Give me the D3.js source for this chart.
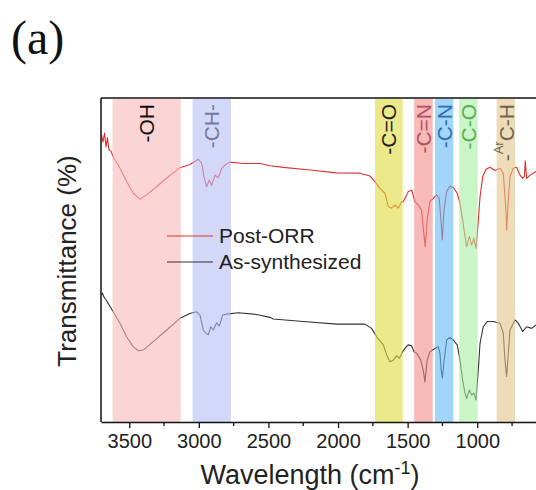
<!DOCTYPE html>
<html>
<head>
<meta charset="utf-8">
<script src="https://cdnjs.cloudflare.com/ajax/libs/d3/7.8.5/d3.min.js"></script>
<style>
	body { margin: 0; background: #fff; }
	svg { display: block; font-family: "Liberation Sans", Arial, sans-serif; }
</style>
</head>
<body>
<div id="chart"></div>
<script>

// [wavenumber, transmittance]
var postOrr = [
	[3700, 88.6], [3689, 86.4], [3678, 89.2], [3667, 84.9], [3657, 87.7], [3646, 84.0], [3631, 83.6],
	[3615, 81.8], [3567, 78.4], [3519, 74.2], [3471, 70.6], [3423, 68.8], [3375, 70.1], [3303, 72.6],
	[3231, 75.3], [3136, 78.5], [3064, 79.5], [3004, 81.1], [2980, 79.9], [2963, 75.7], [2944, 72.6],
	[2925, 74.7], [2908, 73.1], [2884, 76.2], [2861, 75.4], [2836, 78.3], [2812, 79.3], [2777, 80.2],
	[2681, 79.8], [2561, 79.8], [2489, 79.1], [2394, 78.6], [2202, 77.8], [2010, 76.9], [1843, 76.8],
	[1771, 75.9], [1735, 74.2], [1699, 72.1], [1663, 70.6], [1639, 66.5], [1615, 66.0], [1591, 67.0],
	[1568, 66.0], [1543, 68.0], [1532, 68.0], [1507, 70.1], [1496, 71.1], [1471, 71.6], [1448, 68.0],
	[1424, 67.0], [1400, 65.4], [1384, 58.2], [1374, 54.1], [1360, 62.3], [1340, 68.0], [1316, 69.0],
	[1292, 70.1], [1273, 69.0], [1259, 61.3], [1251, 56.2], [1239, 65.4], [1220, 71.1], [1196, 72.8],
	[1172, 72.4], [1144, 70.6], [1124, 67.5], [1105, 62.3], [1088, 57.2], [1076, 54.1], [1057, 57.2],
	[1040, 54.6], [1024, 56.7], [1009, 53.6], [993, 61.8], [980, 69.5], [961, 75.7], [937, 78.0],
	[909, 78.6], [873, 77.6], [837, 78.3], [813, 76.8], [794, 65.4], [789, 59.3], [777, 68.5],
	[765, 75.7], [741, 78.3], [717, 78.6], [693, 76.2], [674, 75.2], [661, 75.9], [655, 80.6],
	[645, 75.2], [621, 76.2], [578, 77.3]
];

var asSynthesized = [
	[3700, 39.2], [3693, 39.8], [3682, 38.6], [3675, 38.2], [3651, 36.6], [3615, 34.0], [3567, 30.5],
	[3519, 26.3], [3471, 23.2], [3435, 22.0], [3399, 22.2], [3328, 24.8], [3231, 28.4], [3136, 32.0],
	[3064, 33.5], [3016, 34.0], [2992, 33.0], [2968, 28.4], [2949, 27.4], [2932, 26.9], [2915, 29.4],
	[2897, 28.4], [2872, 30.6], [2853, 29.6], [2829, 33.0], [2800, 33.3], [2717, 33.7], [2585, 33.2],
	[2489, 32.3], [2466, 31.8], [2250, 31.0], [2010, 30.2], [1807, 30.2], [1759, 28.9], [1723, 26.3],
	[1675, 23.8], [1651, 20.7], [1627, 18.6], [1603, 19.1], [1579, 20.4], [1560, 19.7], [1536, 21.7],
	[1512, 23.1], [1496, 23.8], [1471, 23.5], [1455, 21.7], [1435, 21.2], [1406, 19.1], [1388, 16.0],
	[1376, 12.4], [1360, 19.1], [1340, 21.7], [1304, 22.7], [1280, 23.2], [1268, 21.2], [1259, 16.0],
	[1251, 13.5], [1239, 18.6], [1220, 25.3], [1196, 26.1], [1172, 25.3], [1144, 23.8], [1124, 19.1],
	[1105, 13.0], [1088, 8.9], [1076, 7.3], [1057, 9.9], [1040, 8.3], [1024, 8.9], [1009, 6.8],
	[993, 16.0], [980, 24.3], [957, 29.4], [928, 31.0], [885, 31.0], [837, 30.5], [813, 27.4],
	[801, 19.1], [789, 14.0], [777, 21.2], [765, 28.4], [729, 31.5], [705, 30.5], [674, 27.9],
	[645, 29.4], [609, 28.9], [578, 30.0]
];

var bandNames = ["-OH", "-CH-", "-C=O", "-C=N", "-C-N", "-C-O", "-C-H"];
var bandFrom = [3620, 3045, 1735, 1453, 1304, 1130, 861];
var bandTo = [3130, 2770, 1536, 1320, 1172, 997, 729];

var xTicks = [3500, 3000, 2500, 2000, 1500, 1000];
var xMinorTicks = [3250, 2750, 2250, 1750, 1250, 750];
var seriesNames = ["Post-ORR", "As-synthesized"];

var bandFill = ["#f8b9b9", "#b6bcf3", "#dfda3c", "#f38a8a", "#66b9f3", "#a5eea5", "#e3c589"];
var bandText = ["#111", "#737a9c", "#222", "#b4505e", "#2e6fb3", "#55b055", "#6e6454"];
var lineColor = ["#e0302c", "#333"];

var totalWidth = 536, totalHeight = 490;
var margin = { top: 98, left: 101, bottom: 68, right: 0 };
var width = totalWidth - margin.left - margin.right;
var height = totalHeight - margin.top - margin.bottom;

var xScale = d3.scaleLinear().domain([3703, 578]).range([0, width]);
var yScale = d3.scaleLinear().domain([0, 100]).range([height, 0]);

var svg = d3.select("#chart").append("svg")
	.attr("width", totalWidth)
	.attr("height", totalHeight);

svg.append("text")
	.attr("x", 11)
	.attr("y", 54)
	.style("font-family", "'Liberation Serif', 'Times New Roman', serif")
	.style("font-size", "48px")
	.attr("fill", "#111")
	.text("(a)");

var mainGroup = svg.append("g")
	.attr("transform", "translate(" + margin.left + "," + margin.top + ")");

var line = d3.line()
	.x(function (d) { return xScale(d[0]); })
	.y(function (d) { return yScale(d[1]); });

[postOrr, asSynthesized].forEach(function (s, i) {
	mainGroup.append("path")
		.datum(s)
		.attr("d", line)
		.attr("fill", "none")
		.attr("stroke", lineColor[i])
		.attr("stroke-width", 1.1)
		.attr("stroke-linejoin", "round");
});

// shaded bands sit on top of the spectra, see-through
mainGroup.selectAll(".band")
	.data(bandNames)
	.enter()
	.append("rect")
	.attr("class", "band")
	.attr("x", function (d, i) { return xScale(bandFrom[i]); })
	.attr("width", function (d, i) { return xScale(bandTo[i]) - xScale(bandFrom[i]); })
	.attr("y", 1)
	.attr("height", height - 1)
	.attr("fill", function (d, i) { return bandFill[i]; })
	.attr("fill-opacity", 0.6);

var bandLabels = mainGroup.selectAll(".band-label")
	.data(bandNames)
	.enter()
	.append("text")
	.attr("class", "band-label")
	.attr("transform", function (d, i) {
		var cx = (xScale(bandFrom[i]) + xScale(bandTo[i])) / 2;
		return "translate(" + cx + ",6) rotate(-90)";
	})
	.attr("text-anchor", "end")
	.attr("dominant-baseline", "central")
	.style("font-size", "21px")
	.attr("fill", function (d, i) { return bandText[i]; });

bandLabels.each(function (d, i) {
	var t = d3.select(this);
	if (i === 6) {
		t.append("tspan").text("-");
		t.append("tspan").attr("baseline-shift", "super").style("font-size", "13px").text("Ar");
		t.append("tspan").text("C-H");
	} else {
		t.text(d);
	}
});

// legend
var legend = mainGroup.append("g");
seriesNames.forEach(function (name, i) {
	var ly = 138 + i * 26;
	legend.append("line")
		.attr("x1", 66).attr("x2", 112)
		.attr("y1", ly).attr("y2", ly)
		.attr("stroke", lineColor[i])
		.attr("stroke-width", 1.2);
	legend.append("text")
		.attr("x", 118)
		.attr("y", ly + 7)
		.style("font-size", "21px")
		.attr("fill", "#222")
		.text(name);
});

// axes
var xAxis = d3.axisBottom(xScale)
	.tickValues(xTicks)
	.tickSizeInner(6)
	.tickSizeOuter(0)
	.tickFormat(d3.format("d"));

var xAxisGroup = mainGroup.append("g")
	.attr("transform", "translate(0," + height + ")")
	.call(xAxis);

xAxisGroup.select(".domain").attr("stroke", "#111").attr("stroke-width", 1.5);
xAxisGroup.selectAll(".tick line").attr("stroke", "#111").attr("stroke-width", 1.3);
xAxisGroup.selectAll(".tick text")
	.attr("y", 26)
	.attr("dy", 0)
	.style("font-size", "20px")
	.style("font-family", "'Liberation Sans', Arial, sans-serif")
	.attr("fill", "#222");

xAxisGroup.selectAll(".minor")
	.data(xMinorTicks)
	.enter()
	.append("line")
	.attr("class", "minor")
	.attr("x1", function (d) { return xScale(d); })
	.attr("x2", function (d) { return xScale(d); })
	.attr("y1", 0)
	.attr("y2", 4)
	.attr("stroke", "#111")
	.attr("stroke-width", 1.3);

mainGroup.append("line")
	.attr("x1", 0).attr("x2", width)
	.attr("y1", 0).attr("y2", 0)
	.attr("stroke", "#111").attr("stroke-width", 1.5);

mainGroup.append("line")
	.attr("x1", 0).attr("x2", 0)
	.attr("y1", 0).attr("y2", height)
	.attr("stroke", "#111").attr("stroke-width", 1.5);

var xTitle = svg.append("text")
	.attr("x", 310)
	.attr("y", 484)
	.attr("text-anchor", "middle")
	.style("font-size", "27px")
	.attr("fill", "#222");
xTitle.append("tspan").text("Wavelength (cm");
xTitle.append("tspan").attr("baseline-shift", "super").style("font-size", "18px").text("-1");
xTitle.append("tspan").text(")");

svg.append("text")
	.attr("transform", "translate(76,261) rotate(-90)")
	.attr("text-anchor", "middle")
	.style("font-size", "26px")
	.attr("fill", "#222")
	.text("Transmittance (%)");

</script>
</body>
</html>
